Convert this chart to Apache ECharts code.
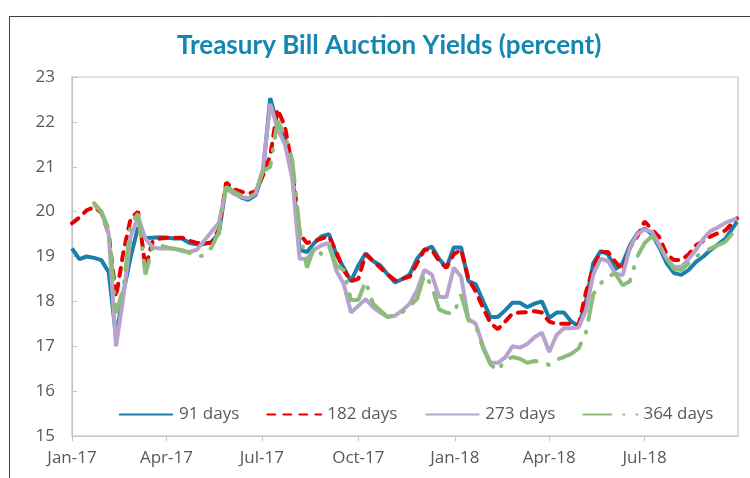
<!DOCTYPE html>
<html>
<head>
<meta charset="utf-8">
<title>Treasury Bill Auction Yields</title>
<script src="https://cdn.jsdelivr.net/npm/echarts@6/dist/echarts.min.js"></script>
<style>
    html, body { margin: 0; padding: 0; background: #fff; }
    #chart { width: 750px; height: 478px; }
</style>
</head>
<body>
<div id="chart"></div>
<script>
// weekly auction dates
var weeks = [
    '2017-01-01', '2017-01-08', '2017-01-15', '2017-01-22', '2017-01-29',
    '2017-02-05', '2017-02-12', '2017-02-19', '2017-02-26',
    '2017-03-05', '2017-03-12', '2017-03-19', '2017-03-26',
    '2017-04-02', '2017-04-09', '2017-04-16', '2017-04-23', '2017-04-30',
    '2017-05-07', '2017-05-14', '2017-05-21', '2017-05-28',
    '2017-06-04', '2017-06-11', '2017-06-18', '2017-06-25',
    '2017-07-02', '2017-07-09', '2017-07-16', '2017-07-23', '2017-07-30',
    '2017-08-06', '2017-08-13', '2017-08-20', '2017-08-27',
    '2017-09-03', '2017-09-10', '2017-09-17', '2017-09-24',
    '2017-10-01', '2017-10-08', '2017-10-15', '2017-10-22', '2017-10-29',
    '2017-11-05', '2017-11-12', '2017-11-19', '2017-11-26',
    '2017-12-03', '2017-12-10', '2017-12-17', '2017-12-24', '2017-12-31',
    '2018-01-07', '2018-01-14', '2018-01-21', '2018-01-28',
    '2018-02-04', '2018-02-11', '2018-02-18', '2018-02-25',
    '2018-03-04', '2018-03-11', '2018-03-18', '2018-03-25',
    '2018-04-01', '2018-04-08', '2018-04-15', '2018-04-22', '2018-04-29',
    '2018-05-06', '2018-05-13', '2018-05-20', '2018-05-27',
    '2018-06-03', '2018-06-10', '2018-06-17', '2018-06-24',
    '2018-07-01', '2018-07-08', '2018-07-15', '2018-07-22', '2018-07-29',
    '2018-08-05', '2018-08-12', '2018-08-19', '2018-08-26',
    '2018-09-02', '2018-09-09', '2018-09-16', '2018-09-27'
];

var days91 = [
    19.18, 18.94, 19.0, 18.97, 18.92, 18.65, 17.2, 18.2, 19.0, 19.65,
    19.41, 19.42, 19.43, 19.42, 19.4, 19.4, 19.3, 19.27, 19.28, 19.32,
    19.52, 20.59, 20.43, 20.32, 20.26, 20.37, 20.85, 22.53, 21.93, 21.62,
    20.86, 19.15, 19.1, 19.3, 19.45, 19.5, 19.05, 18.75, 18.45, 18.8,
    19.07, 18.9, 18.8, 18.6, 18.42, 18.5, 18.6, 18.95, 19.15, 19.22,
    18.95, 18.75, 19.2, 19.2, 18.45, 18.38, 18.0, 17.65, 17.65, 17.8,
    17.97, 17.97, 17.87, 17.95, 18.0, 17.63, 17.75, 17.75, 17.55, 17.45,
    18.0, 18.85, 19.12, 19.05, 18.72, 18.85, 19.25, 19.52, 19.62, 19.5,
    19.2, 18.85, 18.63, 18.59, 18.7, 18.88, 19.0, 19.15, 19.27, 19.4, 19.77
];
var days182 = [
    19.74, 19.87, 20.03, 20.1, 19.98, 19.5, 18.1, 19.1, 19.85, 20.0,
    18.75, 19.35, 19.4, 19.42, 19.42, 19.42, 19.35, 19.3, 19.3, 19.3,
    19.6, 20.65, 20.5, 20.45, 20.4, 20.45, 20.8, 21.25, 22.28, 21.9,
    21.0, 19.5, 19.3, 19.35, 19.4, 19.45, 19.1, 18.7, 18.45, 18.5,
    19.05, 18.9, 18.75, 18.6, 18.47, 18.5, 18.55, 18.85, 19.15, 19.15,
    18.9, 18.75, 19.05, 19.15, 18.5, 18.22, 17.85, 17.52, 17.38, 17.55,
    17.73, 17.75, 17.76, 17.78, 17.75, 17.55, 17.5, 17.5, 17.5, 17.47,
    18.2, 18.75, 19.1, 19.1, 18.88, 18.7, 19.2, 19.45, 19.78, 19.6,
    19.43, 19.05, 18.92, 18.92, 19.05, 19.25, 19.35, 19.45, 19.52, 19.58, 19.85
];
var days273 = [
    null, null, null, 20.15, 20.0, 19.5, 17.0, 18.1, 19.45, 19.88,
    19.4, 19.2, 19.18, 19.18, 19.17, 19.12, 19.1, 19.15, 19.35, 19.55,
    19.75, 20.52, 20.4, 20.33, 20.3, 20.4, 20.95, 22.4, 21.85, 21.5,
    20.75, 18.95, 18.95, 19.15, 19.25, 19.3, 18.68, 18.4, 17.75, 17.9,
    18.05, 17.87, 17.75, 17.65, 17.68, 17.8, 17.95, 18.25, 18.7, 18.6,
    18.1, 18.1, 18.75, 18.55, 17.6, 17.5, 17.0, 16.63, 16.63, 16.75,
    17.0, 16.97, 17.05, 17.2, 17.3, 16.87, 17.25, 17.4, 17.4, 17.42,
    17.8, 18.6, 18.95, 18.9, 18.62, 18.58, 19.2, 19.5, 19.6, 19.55,
    19.25, 18.95, 18.77, 18.77, 18.95, 19.15, 19.4, 19.57, 19.65, 19.75, 19.85
];
var days364 = [
    null, null, null, 20.19, 20.0, 19.6, 17.74, 18.3, 19.75, 19.95,
    18.6, 19.23, 19.25, 19.2, 19.17, 19.14, 19.08, 19.0, 19.02, 19.2,
    19.55, 20.55, 20.45, 20.36, 20.3, 20.4, 20.9, 21.0, 22.02, 21.7,
    21.15, 19.6, 18.75, 19.22, 19.05, 19.22, 18.8, 18.7, 18.03, 18.03,
    18.45, 17.95, 17.8, 17.65, 17.7, 17.76, 17.9, 18.05, 18.6, 18.35,
    17.82, 17.75, 17.72, 18.15, 17.58, 17.45, 16.95, 16.6, 16.45, 16.7,
    16.76, 16.72, 16.63, 16.67, 16.66, 16.58, 16.7, 16.76, 16.83, 16.95,
    17.3, 18.15, 18.4, 18.56, 18.62, 18.36, 18.45, 19.0, 19.3, 19.45,
    19.25, 18.95, 18.72, 18.7, 18.85, 19.0, 19.1, 19.18, 19.25, 19.33, 19.63
];

var tickDates = ['2017-01-01', '2017-04-01', '2017-07-01', '2017-10-01', '2018-01-01', '2018-04-01', '2018-07-01'];
var tickLabels = ['Jan-17', 'Apr-17', 'Jul-17', 'Oct-17', 'Jan-18', 'Apr-18', 'Jul-18'];

var font = '"Open Sans", "Noto Sans", sans-serif';
var textColor = '#595959';

function toTime(s) {
    var p = s.split('-');
    return Date.UTC(+p[0], +p[1] - 1, +p[2]);
}

var tickTimes = tickDates.map(toTime);
var labelByTime = {};
tickTimes.forEach(function (t, i) {
    labelByTime[t] = tickLabels[i];
});

function pairs(values) {
    return weeks.map(function (d, i) {
        return [toTime(d), values[i]];
    });
}

function makeSeries(name, values, color, type, cap) {
    return {
        name: name,
        type: 'line',
        data: pairs(values),
        symbol: 'none',
        showSymbol: false,
        connectNulls: false,
        lineStyle: {
            color: color,
            width: 4,
            type: type,
            cap: cap
        },
        itemStyle: {
            color: color
        },
        animation: false
    };
}

var chart = echarts.init(document.getElementById('chart'));
chart.setOption({
    backgroundColor: '#fff',
    title: {
        text: 'Treasury Bill Auction Yields (percent)',
        left: 172,
        top: 28,
        textStyle: {
            color: '#1287B1',
            fontFamily: 'Lato, sans-serif',
            fontWeight: 'bold',
            fontSize: 26
        }
    },
    grid: {
        left: 72,
        right: 12,
        top: 77,
        bottom: 42,
        show: true,
        borderColor: '#C4C4C4',
        borderWidth: 1.2
    },
    legend: {
        left: 113,
        top: 401,
        itemWidth: 54,
        itemHeight: 14,
        itemGap: 27,
        itemStyle: {
            opacity: 0
        },
        textStyle: {
            color: textColor,
            fontFamily: font,
            fontSize: 17,
            padding: [0, 0, 0, 1]
        },
        data: ['91 days', '182 days', '273 days', '364 days']
    },
    xAxis: {
        type: 'value',
        min: toTime('2017-01-01'),
        max: toTime('2018-09-28'),
        axisLine: {
            show: true,
            lineStyle: { color: '#C4C4C4', width: 1.2 }
        },
        axisTick: {
            show: true,
            length: 5,
            customValues: tickTimes,
            lineStyle: { color: '#C4C4C4', width: 1 }
        },
        axisLabel: {
            customValues: tickTimes,
            margin: 14,
            color: textColor,
            fontFamily: font,
            fontSize: 17,
            formatter: function (value) {
                return labelByTime[value] || '';
            }
        },
        splitLine: { show: false }
    },
    yAxis: {
        type: 'value',
        min: 15,
        max: 23,
        interval: 1,
        axisLine: {
            show: true,
            lineStyle: { color: '#C4C4C4', width: 1.2 }
        },
        axisTick: {
            show: true,
            inside: true,
            length: 5,
            lineStyle: { color: '#C4C4C4' }
        },
        axisLabel: {
            margin: 17,
            color: textColor,
            fontFamily: font,
            fontSize: 17
        },
        splitLine: { show: false }
    },
    graphic: [{
        type: 'polyline',
        silent: true,
        shape: { points: [[9.5, 478], [9.5, 16.5], [750, 16.5]] },
        style: { stroke: '#404040', lineWidth: 1, fill: null }
    }],
    series: [
        makeSeries('91 days', days91, '#1A80AB', 'solid', 'butt'),
        makeSeries('182 days', days182, '#E60000', [8, 8], 'round'),
        makeSeries('273 days', days273, '#B8A3CE', 'solid', 'butt'),
        makeSeries('364 days', days364, '#8BBD78', [28, 12, 1, 12], 'round')
    ]
});
</script>
</body>
</html>
